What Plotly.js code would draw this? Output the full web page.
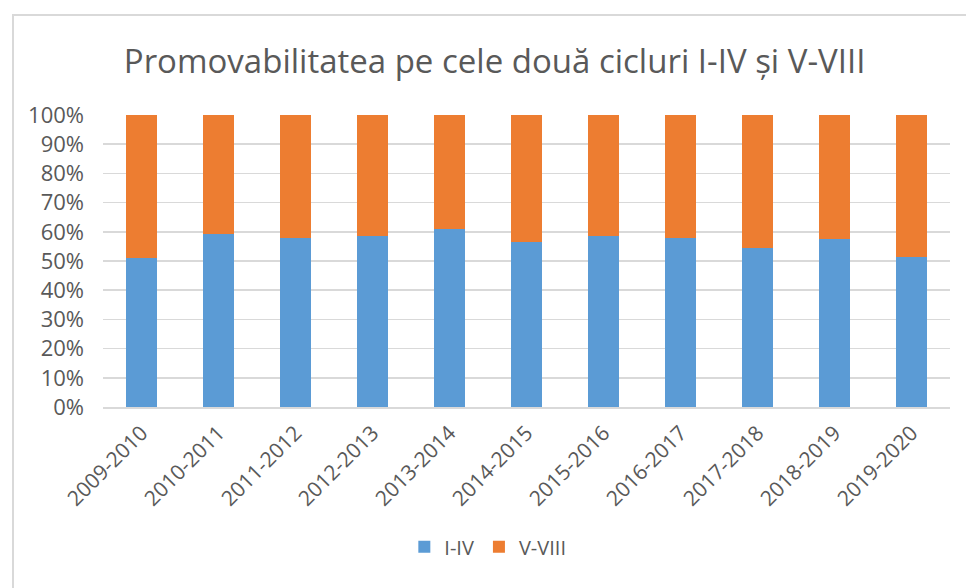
<!DOCTYPE html>
<html><head><meta charset="utf-8">
<script src="https://cdn.plot.ly/plotly-3.0.1.min.js"></script>
<style>
html,body{margin:0;padding:0;background:#fff;}
#frame{position:absolute;left:12px;top:14px;width:960px;height:600px;border:2px solid #d9d9d9;box-sizing:border-box;}
#chart{position:absolute;left:0;top:0;width:966px;height:588px;}
</style></head>
<body><div id="frame"></div><div id="chart"></div>
<script>
const categories = ["2009-2010","2010-2011","2011-2012","2012-2013","2013-2014","2014-2015","2015-2016","2016-2017","2017-2018","2018-2019","2019-2020"];
const cycleI_IV = [51.0,59.3,57.9,58.7,61.0,56.6,58.4,57.9,54.4,57.5,51.5];
const cycleV_VIII = cycleI_IV.map(v => 100 - v);
const yTicks = [0,10,20,30,40,50,60,70,80,90,100];
const yTickText = yTicks.map(v => v + "%");

const data = [
  {type:"bar", name:"I-IV", x:categories, y:cycleI_IV, marker:{color:"#5b9bd5"}, hoverinfo:"x+y"},
  {type:"bar", name:"V-VIII", x:categories, y:cycleV_VIII, marker:{color:"#ed7d31"}, hoverinfo:"x+y"}
];
const layout = {
  width:966, height:588,
  paper_bgcolor:"rgba(0,0,0,0)", plot_bgcolor:"rgba(0,0,0,0)",
  barmode:"stack", bargap:0.61,
  margin:{l:103, r:16, t:115, b:181, autoexpand:false},
  title:{text:"Promovabilitatea pe cele două cicluri I-IV și V-VIII", x:0.512, xref:"container", xanchor:"center", y:0.895, yref:"container", yanchor:"middle",
    font:{family:"Open Sans, Noto Sans, sans-serif", size:33, color:"#595959"}},
  font:{family:"Open Sans, Noto Sans, sans-serif", color:"#595959"},
  xaxis:{type:"category", automargin:false, tickangle:-45, tickfont:{size:21, color:"#595959"}, showline:true, linecolor:"#d9d9d9", linewidth:1.5, ticks:"", showgrid:false, ticklabelstandoff:4},
  yaxis:{range:[0,100], automargin:false, tickvals:yTicks, ticktext:yTickText, tickfont:{size:22, color:"#595959"}, gridcolor:"#d9d9d9", gridwidth:1.5, zeroline:false, ticks:"", showline:false, ticklabelstandoff:18},
  legend:{orientation:"h", x:0.505, xref:"container", xanchor:"center", y:0.07, yref:"container", yanchor:"middle", font:{size:20, color:"#595959"}, traceorder:"normal", itemwidth:30},
  showlegend:true
};
Plotly.newPlot("chart", data, layout, {displayModeBar:false, staticPlot:true});
</script></body></html>
